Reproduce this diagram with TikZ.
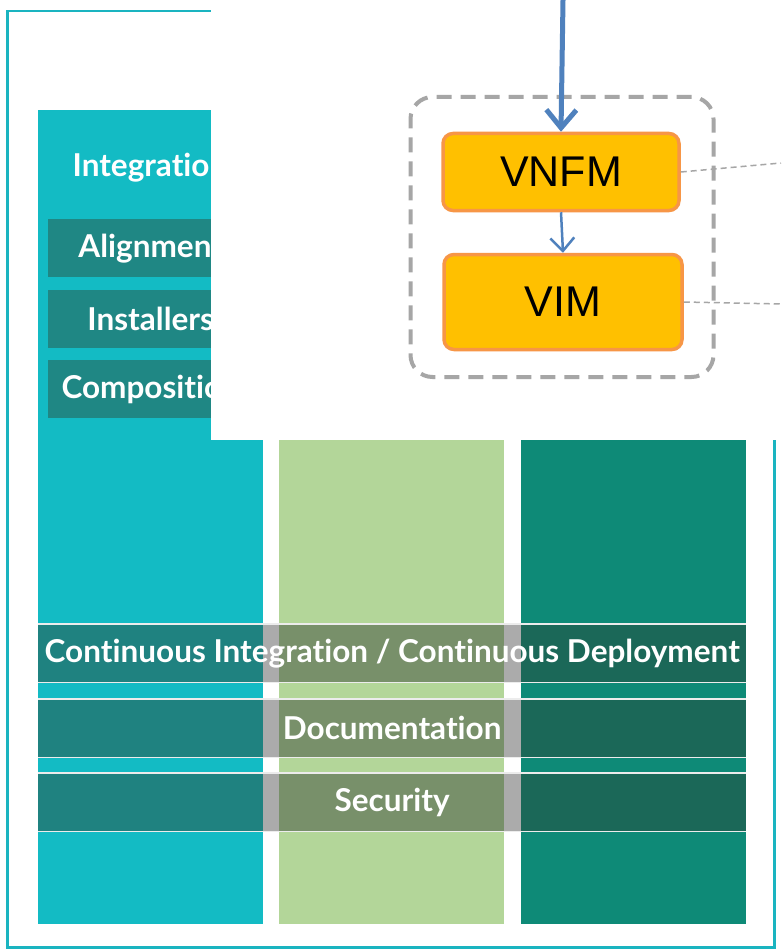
\documentclass[tikz,border=0pt]{standalone}
\usepackage{fontspec}
\usepackage{tikz}
\usetikzlibrary{arrows.meta}
\newfontfamily\latofont[Ligatures=NoCommon]{Lato}
\newfontfamily\arialfont{Liberation Sans}
\definecolor{framecyan}{HTML}{1AB4C0}
\definecolor{intcyan}{HTML}{13BBC4}
\definecolor{apigreen}{HTML}{B3D699}
\definecolor{tealdark}{HTML}{0E8A77}
\definecolor{subteal}{HTML}{1F8784}
\definecolor{bandgray}{HTML}{ABABAB}
\definecolor{bandcyan}{HTML}{1F8280}
\definecolor{bandgreen}{HTML}{78906A}
\definecolor{bandteal}{HTML}{1B6858}
\definecolor{boxgold}{HTML}{FFC000}
\definecolor{boxorange}{HTML}{F79646}
\definecolor{linkblue}{HTML}{4F81BD}
\definecolor{dashgray}{HTML}{A6A6A6}

\begin{document}
\begin{tikzpicture}
  [x=1pt, y=-1pt,
   column/.style={anchor=north west, inner sep=0pt, minimum width=225pt, minimum height=814pt},
   subbox/.style={anchor=north west, inner sep=0pt, fill=subteal, minimum width=205pt, minimum height=58pt},
   band/.style={anchor=north west, inner sep=0pt, fill=bandgray,
                minimum width=708pt, minimum height=58pt},
   label/.style={text=white, font=\latofont\bfseries\fontsize{31.5}{34}\selectfont},
   vnfbox/.style={draw=boxorange, fill=boxgold, line width=3.5pt, rounded corners=10pt,
                  inner sep=0pt, font=\arialfont\fontsize{43}{46}\selectfont},
   link/.style={draw=dashgray, line width=1.5pt, dash pattern=on 6pt off 4pt}]
  \useasboundingbox (0,0) rectangle (781,952);
  \node[draw=framecyan, line width=2.5pt, inner sep=0pt, minimum width=767pt, minimum height=936pt,
        anchor=north west] (frame) at (6,10) {};
  \node[column, fill=intcyan] (intcol) at (38,110) {};
  \node[column, fill=apigreen] (apicol) at (279,110) {};
  \node[column, fill=tealdark] (testcol) at (521,110) {};
  \node[label] (integ) at (150,168) {Integration};
  \node[subbox] (align) at (48,219) {};
  \node[subbox] (inst) at (48,290) {};
  \node[subbox] (comp) at (48,360) {};
  \node[label] (alignt) at (align.center) {Alignment};
  \node[label] (instt) at (inst.center) {Installers};
  \node[label] (compt) at (comp.center) {Composition};
  \node[band] (cicd) at (38,624) {};
  \node[band] (docs) at (38,699) {};
  \node[band] (sec) at (38,773) {};
  \foreach \b in {cicd, docs, sec} {
    \fill[bandcyan] (\b.north west) rectangle (\b.south west -| intcol.east);
    \fill[bandgreen] (\b.north -| apicol.west) rectangle (\b.south -| apicol.east);
    \fill[bandteal] (\b.north -| testcol.west) rectangle (\b.south east);
    \draw[white!85!gray, line width=1.5pt] (\b.north west) -- (\b.north east);
    \draw[white!85!gray, line width=1.5pt] (\b.south west) -- (\b.south east);
  }
  \node[label] at (cicd.center) {Continuous Integration / Continuous Deployment};
  \node[label] at (docs.center) {Documentation};
  \node[label] at (sec.center) {Security};
  \fill[white] (211,0) rectangle (781,440);
  \node[draw=dashgray, line width=4pt, dash pattern=on 15pt off 9pt, rounded corners=22pt,
        inner sep=0pt, minimum width=303pt, minimum height=280pt] (mano) at (562,237) {};
  \node[vnfbox, minimum width=236pt, minimum height=77pt] (vnfm) at (561,172) {VNFM};
  \node[vnfbox, minimum width=238pt, minimum height=95pt] (vim) at (563,302) {VIM};
  \coordinate (nfvo) at (563,0);
  \coordinate (vnfmout) at (781,163);
  \coordinate (vimout) at (781,304);
  \draw[link] (vnfm.east) -- (vnfmout);
  \draw[link] (vim.east) -- (vimout);
  \draw[linkblue, line width=5pt, -{Straight Barb[length=18pt, width=30pt]}] (nfvo) -- (vnfm.north);
  \draw[linkblue, line width=2.5pt, -{Straight Barb[length=13pt, width=24pt]}] (vnfm.south) -- (vim.north);
\end{tikzpicture}
\end{document}
